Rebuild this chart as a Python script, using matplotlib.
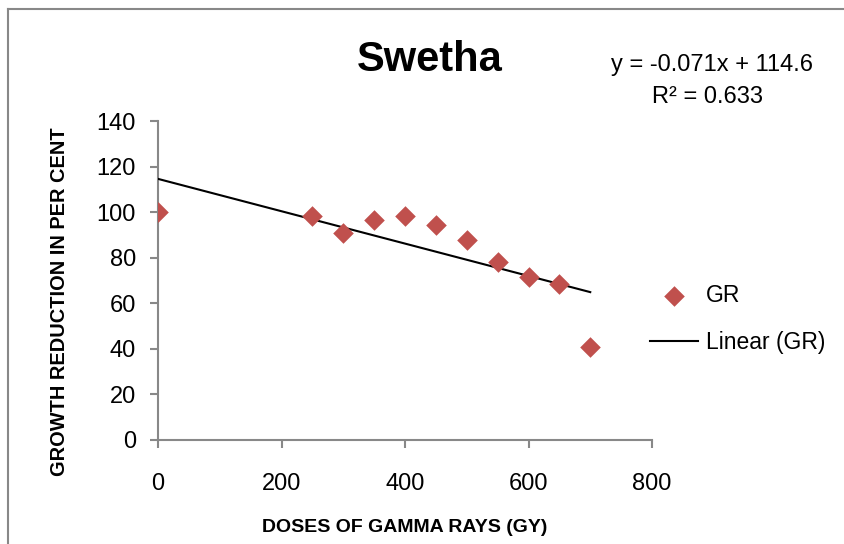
import matplotlib
matplotlib.use("Agg")
import matplotlib.pyplot as plt
from matplotlib.lines import Line2D
import numpy as np

doses = [0, 250, 300, 350, 400, 450, 500, 550, 600, 650, 700]
gr = [100, 98.2, 90.8, 96.5, 98.2, 94.3, 87.7, 78, 71.5, 68.4, 40.8]
slope = -0.071
intercept = 114.6
r2 = 0.633
x_ticks = [0, 200, 400, 600, 800]
y_ticks = [0, 20, 40, 60, 80, 100, 120, 140]

plt.rcParams["font.family"] = ["Liberation Sans", "DejaVu Sans"]

fig = plt.figure(figsize=(8.44, 5.44), dpi=100)
ax = fig.add_axes([158/844, 1-440/544, 494/844, 319/544])

ax.scatter(doses, gr, marker="D", s=110, color="#C0504D", edgecolors="#C0504D",
           linewidths=0, zorder=3, label="GR")
xl = np.array([min(doses), max(doses)])
ax.plot(xl, slope*xl + intercept, color="black", lw=1.5, zorder=2, label="Linear (GR)")

ax.set_xlim(0, 800)
ax.set_ylim(0, 140)
ax.set_xticks(x_ticks)
ax.set_yticks(y_ticks)
ax.tick_params(labelsize=17, colors="#888888", labelcolor="black", length=6, width=1.5)
ax.tick_params(axis="y", pad=10)
ax.tick_params(axis="x", pad=18)
for s in ["top", "right"]:
    ax.spines[s].set_visible(False)
for s in ["left", "bottom"]:
    ax.spines[s].set_color("#888888")
    ax.spines[s].set_linewidth(1.5)
ax.spines["left"].set_zorder(1)

fig.text(430/844, 1-60/544, "Swetha", fontsize=30, fontweight="bold", ha="center", va="center")
fig.text(712/844, 1-65/544, f"y = {slope}x + {intercept}", fontsize=17, ha="center", va="center")
fig.text(708/844, 1-97/544, f"R² = {r2}", fontsize=17, ha="center", va="center")
fig.text(60/844, 1-302/544, "GROWTH REDUCTION IN PER CENT", fontsize=14.4, fontweight="bold",
         rotation=90, ha="center", va="center")
fig.text(405/844, 1-527/544, "DOSES OF GAMMA RAYS (GY)", fontsize=14, fontweight="bold",
         ha="center", va="center")

leg = ax.legend(loc="center left", bbox_to_anchor=(650/844, 1-319/544), bbox_transform=fig.transFigure,
                frameon=False, fontsize=16.5, handlelength=2.1, handletextpad=0.35, labelspacing=1.05,
                borderaxespad=0, borderpad=0)

fig.add_artist(Line2D([8/844, 8/844], [0, 1-9/544], transform=fig.transFigure, color="#888888", lw=1.5))
fig.add_artist(Line2D([8/844, 1], [1-9/544, 1-9/544], transform=fig.transFigure, color="#888888", lw=1.5))

fig.savefig("out.png", dpi=100)
